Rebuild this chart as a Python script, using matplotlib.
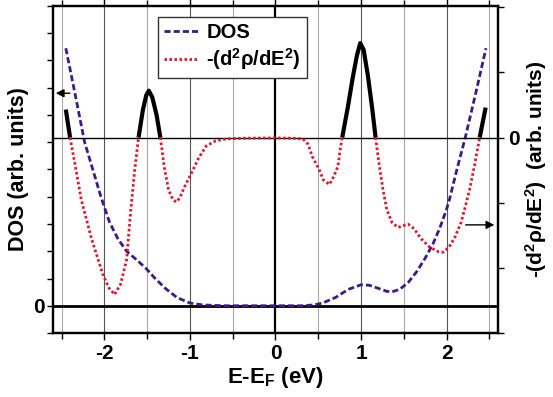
import numpy as np
import matplotlib.pyplot as plt
from matplotlib.lines import Line2D

plt.rcParams['font.family'] = ['Liberation Sans', 'DejaVu Sans']
plt.rcParams['font.weight'] = 'bold'
plt.rcParams['axes.unicode_minus'] = False
plt.rcParams['mathtext.fontset'] = 'custom'
plt.rcParams['mathtext.rm'] = 'Liberation Sans:bold'
plt.rcParams['mathtext.bf'] = 'Liberation Sans:bold'
plt.rcParams['mathtext.it'] = 'Liberation Sans:bold'

# DOS curve (left axis, arb. units)
dos_e = [-2.45, -2.35, -2.23, -2.13, -2.04, -1.94, -1.84, -1.74, -1.62, -1.51,
         -1.40, -1.28, -1.15, -1.00, -0.85, -0.60, 0.00, 0.30, 0.45, 0.55,
         0.70, 0.85, 1.00, 1.10, 1.20, 1.30, 1.36, 1.45, 1.55, 1.65,
         1.75, 1.84, 1.92, 2.00, 2.035, 2.12, 2.22, 2.34, 2.46]
dos_v = [9.45, 7.9, 6.0, 4.95, 4.0, 3.07, 2.45, 2.0, 1.68, 1.36,
         0.98, 0.62, 0.3, 0.1, 0.03, 0.0, 0.0, 0.0, 0.03, 0.1,
         0.3, 0.6, 0.77, 0.75, 0.64, 0.53, 0.51, 0.6, 0.85, 1.25,
         1.75, 2.27, 2.85, 3.55, 3.92, 5.0, 6.2, 7.8, 9.45]

# -(d2 rho / dE2) curve (right axis, arb. units)
d2_e = [-2.45, -2.40, -2.33, -2.27, -2.15, -2.02, -1.95, -1.88, -1.81, -1.74,
        -1.69, -1.645, -1.60, -1.55, -1.51, -1.48, -1.44, -1.39, -1.345, -1.30,
        -1.25, -1.20, -1.16, -1.12, -1.06, -0.98, -0.90, -0.81, -0.70, -0.57,
        -0.40, 0.00, 0.20, 0.32, 0.38, 0.43, 0.51, 0.56, 0.63, 0.68,
        0.73, 0.76, 0.78, 0.85, 0.90, 0.95, 0.99, 1.03, 1.08, 1.13,
        1.17, 1.21, 1.255, 1.30, 1.36, 1.43, 1.50, 1.55, 1.62, 1.70,
        1.80, 1.90, 1.96, 2.03, 2.10, 2.17, 2.22, 2.27, 2.33, 2.386,
        2.456]
d2_v = [0.43, 0.0, -0.5, -0.95, -1.55, -2.09, -2.3, -2.41, -2.25, -1.88,
        -1.1, -0.5, 0.0, 0.42, 0.65, 0.72, 0.62, 0.35, 0.0, -0.45,
        -0.8, -0.95, -0.99, -0.93, -0.75, -0.54, -0.32, -0.13, -0.05, -0.02,
        -0.01, -0.005, -0.01, -0.02, -0.1, -0.29, -0.49, -0.65, -0.72, -0.6,
        -0.44, -0.15, 0.0, 0.5, 0.9, 1.25, 1.45, 1.35, 0.95, 0.45,
        0.0, -0.4, -0.79, -1.1, -1.3, -1.38, -1.35, -1.33, -1.4, -1.55,
        -1.68, -1.75, -1.76, -1.68, -1.52, -1.3, -1.05, -0.79, -0.4, 0.0,
        0.46]

x_major = [-2, -1, 0, 1, 2]
x_minor = [-2.5, -1.5, -0.5, 0.5, 1.5, 2.5]

dos_col = '#3a1a8c'
d2_col = '#e8102a'

fig = plt.figure(figsize=(5.53, 3.97), dpi=100)
ax = fig.add_axes([0.0958, 0.1612, 0.8047, 0.8237])
ax2 = ax.twinx()

ax.set_xlim(-2.6, 2.6)
ax.set_ylim(-1, 11)
ax2.set_ylim(-2.98, 2.02)

# vertical grid
for x in x_major:
    if x == 0:
        ax.axvline(x, color='black', lw=1.6, zorder=1)
    else:
        ax.axvline(x, color='#555555', lw=0.8, zorder=1)
for x in x_minor:
    ax.axvline(x, color='#aaaaaa', lw=0.8, zorder=1)

ax.axhline(0, color='black', lw=2, zorder=2)
ax2.axhline(0, color='black', lw=1, zorder=1)

ax.plot(dos_e, dos_v, color=dos_col, lw=2, linestyle=(0, (2.2, 1.1)), zorder=3)

e = np.array(d2_e)
v = np.array(d2_v)
neg = np.ma.masked_where(v > 0, v)
pos = np.ma.masked_where(v < 0, v)
ax2.plot(e, neg, color=d2_col, lw=2, linestyle=(0, (0.9, 0.9)), zorder=3)
ax2.plot(e, pos, color='black', lw=3, solid_capstyle='butt', zorder=3)

# ticks
ax.set_xticks(x_major)
ax.set_xticks(x_minor, minor=True)
ax.set_yticks(range(-1, 12))
ax.set_yticklabels(['0' if t == 0 else '' for t in range(-1, 12)])
ax2.set_yticks(range(-3, 3))
ax2.set_yticklabels(['0' if t == 0 else '' for t in range(-3, 3)])
ax.tick_params(axis='both', which='both', direction='out', width=1, labelsize=15)
ax.tick_params(axis='x', which='major', length=5, top=True, pad=3)
ax.tick_params(axis='x', which='minor', length=4, top=True)
ax.tick_params(axis='y', length=4, pad=2)
ax2.tick_params(axis='y', direction='out', length=4, width=1, labelsize=15, pad=3)
for a in (ax, ax2):
    for s in a.spines.values():
        s.set_linewidth(1.6)

ax.set_xlabel('E-E$_\\mathbf{F}$ (eV)', fontsize=16, fontweight='bold', labelpad=1)
ax.set_ylabel('DOS (arb. units)', fontsize=15.5, fontweight='bold', labelpad=3)
ax2.set_ylabel('-(d$^\\mathbf{2}$ρ/dE$^\\mathbf{2}$)  (arb. units)', fontsize=15,
               fontweight='bold', labelpad=3)

# arrows pointing to the respective axes
ax.annotate('', xy=(-2.6, 7.8), xytext=(-2.37, 7.8),
            arrowprops=dict(arrowstyle='-|>', color='black', lw=1, mutation_scale=12))
ax2.annotate('', xy=(2.59, -1.34), xytext=(2.19, -1.34),
             arrowprops=dict(arrowstyle='-|>', color='black', lw=1, mutation_scale=12))

handles = [Line2D([], [], color=dos_col, lw=2, linestyle=(0, (2.2, 1.1))),
           Line2D([], [], color=d2_col, lw=2, linestyle=(0, (0.9, 0.9)))]
leg = ax2.legend(handles, ['DOS', '-(d$^\\mathbf{2}$ρ/dE$^\\mathbf{2}$)'],
                 loc='upper left', bbox_to_anchor=(0.236, 0.967),
                 fancybox=False, framealpha=1, edgecolor='#333333',
                 prop={'weight': 'bold', 'size': 14.5}, handlelength=1.7,
                 handletextpad=0.4, borderpad=0.3, labelspacing=0.2,
                 borderaxespad=0)
leg.get_frame().set_linewidth(1)

fig.savefig('out.png', dpi=100)
